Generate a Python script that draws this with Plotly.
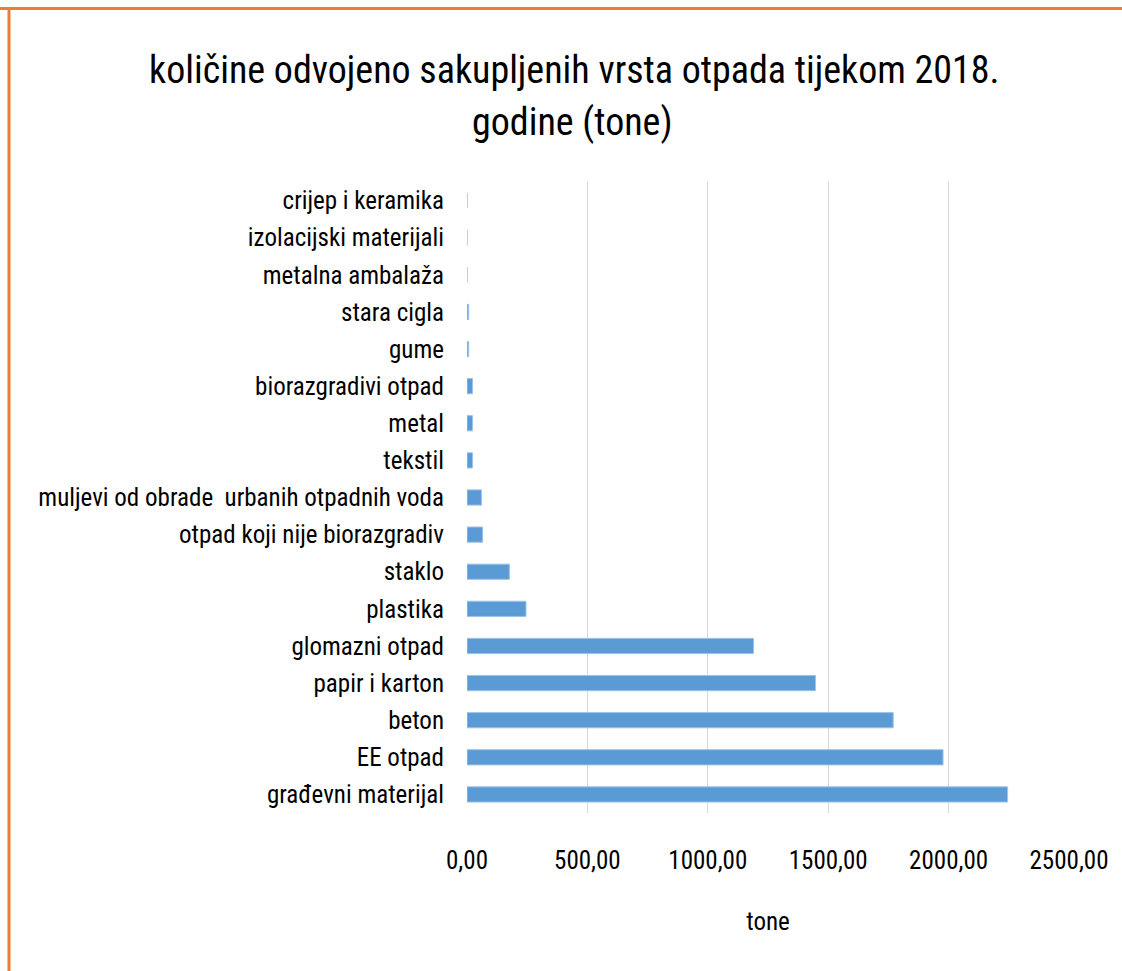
import plotly.graph_objects as go

categories = [
    "građevni materijal", "EE otpad", "beton", "papir i karton", "glomazni otpad",
    "plastika", "staklo", "otpad koji nije biorazgradiv",
    "muljevi od obrade  urbanih otpadnih voda", "tekstil", "metal",
    "biorazgradivi otpad", "gume", "stara cigla", "metalna ambalaža",
    "izolacijski materijali", "crijep i keramika",
]
values = [2245, 1977, 1770, 1447, 1190, 245, 176, 65, 60, 23, 23, 23, 7, 7, 0, 0, 0]

title_line1 = "količine odvojeno sakupljenih vrsta otpada tijekom 2018."
title_line2 = "godine (tone)"
x_title = "tone"
tick_vals = [0, 500, 1000, 1500, 2000, 2500]

FONT = "Liberation Sans Narrow, Roboto Condensed, Arial Narrow, sans-serif"

fig = go.Figure(go.Bar(
    y=categories, x=values, orientation="h",
    marker=dict(color="#5B9BD5", line=dict(color="#9DC3E6", width=1)),
    hoverinfo="x+y",
))

W, H = 1122, 971
L, R, T, B = 467, 1069, 182, 813

fig.update_layout(
    width=W, height=H,
    margin=dict(l=L, r=W - R, t=T, b=H - B),
    paper_bgcolor="white", plot_bgcolor="white",
    separators=",.",
    bargap=0.59,
    showlegend=False,
    font=dict(family=FONT, color="#000000"),
    xaxis=dict(
        range=[0, 2500], tickvals=tick_vals, tickformat=".2f",
        showgrid=True, gridcolor="#D9D9D9", gridwidth=1,
        zeroline=False, showline=False, ticks="",
        tickfont=dict(size=25, family=FONT, color="#000"),
        ticklabelstandoff=30,
        title=dict(text=x_title, font=dict(size=25, family=FONT, color="#000"), standoff=38),
    ),
    yaxis=dict(
        categoryorder="array", categoryarray=categories,
        range=[-0.5, 16.5],
        showgrid=False, zeroline=False, showline=False, ticks="",
        tickfont=dict(size=25, family=FONT, color="#000"),
        ticklabelstandoff=22,
    ),
)

pw, ph = R - L, B - T
def px_x(x):
    return (x - L) / pw
def px_y(y):
    return (B - y) / ph

fig.add_annotation(text=title_line1, x=px_x(574), y=px_y(70), xref="paper", yref="paper",
                   xanchor="center", yanchor="middle", showarrow=False,
                   font=dict(size=38, family=FONT, color="#000"))
fig.add_annotation(text=title_line2, x=px_x(572), y=px_y(122), xref="paper", yref="paper",
                   xanchor="center", yanchor="middle", showarrow=False,
                   font=dict(size=38, family=FONT, color="#000"))

# orange frame (top and left edges)
fig.add_shape(type="line", xref="paper", yref="paper",
              x0=px_x(0), x1=px_x(W), y0=px_y(8.5), y1=px_y(8.5),
              line=dict(color="#ED7D31", width=3), layer="above")
fig.add_shape(type="line", xref="paper", yref="paper",
              x0=px_x(9), x1=px_x(9), y0=px_y(7), y1=px_y(H),
              line=dict(color="#ED7D31", width=3), layer="above")

fig.write_html("out.html")
